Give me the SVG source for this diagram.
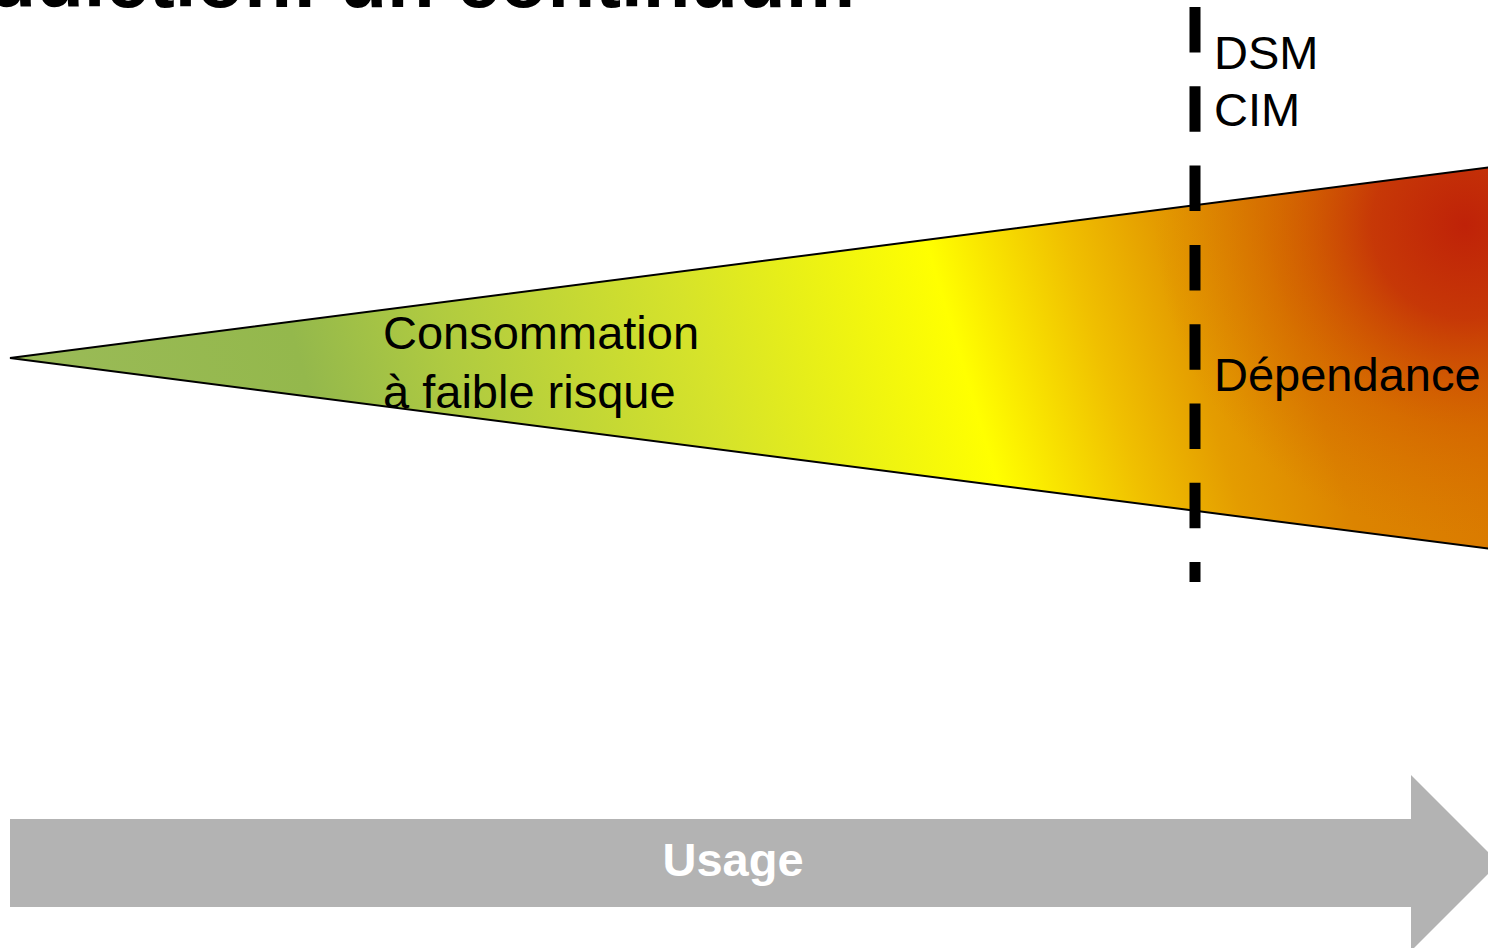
<svg xmlns="http://www.w3.org/2000/svg" width="1488" height="948" viewBox="0 0 1488 948">
  <style>
    .lbl { font-family: "Liberation Sans", Arial, sans-serif; font-size: 47px; fill: #000; }
    .title { font-family: "Liberation Sans", Arial, sans-serif; font-size: 78px; font-weight: bold; fill: #000; }
    .usage { font-family: "Liberation Sans", Arial, sans-serif; font-size: 47px; font-weight: bold; fill: #fff; }
  </style>
  <defs>
    <linearGradient id="cont" gradientUnits="userSpaceOnUse" x1="10" y1="440" x2="1488" y2="0">
      <stop offset="0" stop-color="#9bbb59"/>
      <stop offset="0.195" stop-color="#94b84c"/>
      <stop offset="0.289" stop-color="#b0cb40"/>
      <stop offset="0.444" stop-color="#d6e32a"/>
      <stop offset="0.606" stop-color="#ffff00"/>
      <stop offset="0.693" stop-color="#f0c000"/>
      <stop offset="0.752" stop-color="#e49c00"/>
      <stop offset="0.82" stop-color="#dc8400"/>
      <stop offset="1" stop-color="#d87000"/>
    </linearGradient>
    <radialGradient id="red" gradientUnits="userSpaceOnUse" cx="1465" cy="225" r="310">
      <stop offset="0" stop-color="#bf2208" stop-opacity="1"/>
      <stop offset="0.3" stop-color="#c32c08" stop-opacity="0.85"/>
      <stop offset="0.65" stop-color="#cc4a00" stop-opacity="0.35"/>
      <stop offset="1" stop-color="#d06000" stop-opacity="0"/>
    </radialGradient>
  </defs>
  <rect width="1488" height="948" fill="#fff"/>
  <text class="title" x="855" y="7" text-anchor="end">addiction: un continuum</text>
  <g id="continuum">
    <polygon points="10,358 1492,167 1492,549" fill="url(#cont)"/>
    <polygon points="10,358 1492,167 1492,549" fill="url(#red)" stroke="#000" stroke-width="2" stroke-linejoin="miter"/>
    <text class="lbl" x="383" y="349">Consommation</text>
    <text class="lbl" x="383" y="408">à faible risque</text>
  </g>
  <g id="seuil">
    <line x1="1195" y1="7" x2="1195" y2="582" stroke="#000" stroke-width="11" stroke-dasharray="45.5 33.8"/>
    <text class="lbl" x="1214" y="69">DSM</text>
    <text class="lbl" x="1214" y="126">CIM</text>
    <text class="lbl" x="1214" y="391">Dépendance</text>
  </g>
  <g id="usage">
    <polygon points="10,819 1411,819 1411,775 1499,863 1411,951 1411,907 10,907" fill="#b3b3b3"/>
    <text class="usage" x="733" y="876" text-anchor="middle">Usage</text>
  </g>
  <g id="connectors"/>
</svg>
